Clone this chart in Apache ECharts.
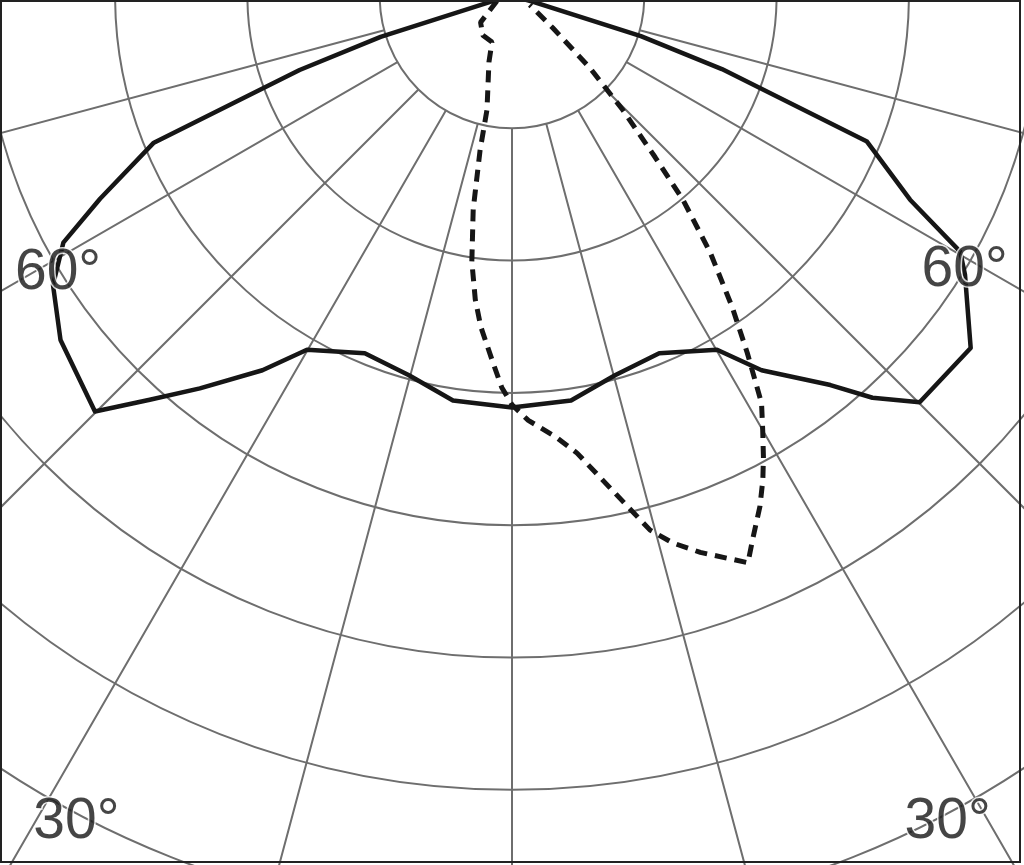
<!DOCTYPE html>
<html><head><meta charset="utf-8">
<script src="https://cdn.jsdelivr.net/npm/echarts@6/dist/echarts.min.js"></script>
<style>html,body{margin:0;padding:0;background:#fff}#c{width:1024px;height:865px}</style>
</head><body><div id="c"></div>
<script>
// gamma angle in degrees (0 = straight down, positive = right side), intensity in cd/klm
const solidAngles = [-90, -74.7, -72.7, -70.8, -67.7, -63.8, -61.2, -57.8, -52.7, -45.1, -41.9, -38.5, -33.7, -30.1, -22.4, -15.2, -8.3, 0,
  8.3, 15.2, 22.4, 30.1, 33.7, 39.3, 41.9, 45.1, 52.5, 58.4, 60.3, 62.9, 67.7, 70.8, 72.7, 74.7, 90];
const solidValues = [0, 17, 104, 170, 293, 347, 387, 410, 429, 445, 410, 379, 340, 309, 292, 297, 309, 311,
  309, 297, 292, 309, 340, 380, 408, 435, 437, 402, 390, 338, 290, 168, 102, 16, 0];

const dashAngles = [-71.6, -50, -36.6, -23.5, -19.2, -12.4, -11.7, -10.3, -8.6, -6.9, -5.4, -3.1, -1.5, 0,
  2.2, 5.7, 8.1, 14.5, 16.4, 18.7, 22.6, 24.0, 25.9, 27.4, 28.6, 30.0, 31.5, 33.4, 35.3, 37.7, 40.0, 41.6, 44.2, 47.3, 52, 63.4];
const dashValues = [12, 31, 37, 38, 53, 88, 119, 164, 203, 231, 251, 276, 296, 309,
  321, 335, 349, 417, 431, 444, 464, 448, 429, 412, 397, 379, 361, 323, 288, 245, 201, 163, 120, 80, 39, 15];

const labelTexts = ['60°', '60°', '30°', '30°'];
const labelAngles = [-58.6, 58.8, -27.8, 27.8];
const labelValues = [402, 400, 706, 706];

const ringMin = 100, ringMax = 800, ringStep = 100;
const angleStep = 15;

const chart = echarts.init(document.getElementById('c'), null, {renderer: 'canvas'});
const gridColor = '#6e6e6e';
const toData = (angles, values) => angles.map((a, i) => [values[i], a]);
const center = [512, -4];
const outerR = 1058.4, innerR = 132.3;

chart.setOption({
  backgroundColor: '#ffffff',
  animation: false,
  polar: [
    {center: center, radius: [innerR, outerR]},
    {center: center, radius: [0, outerR]}
  ],
  radiusAxis: [
    {polarIndex: 0, type: 'value', min: ringMin, max: ringMax, interval: ringStep,
      axisLine: {show: false}, axisTick: {show: false}, axisLabel: {show: false},
      splitLine: {show: true, lineStyle: {color: gridColor, width: 2}}},
    {polarIndex: 1, type: 'value', min: 0, max: ringMax, show: false,
      axisLine: {show: false}, axisTick: {show: false}, axisLabel: {show: false}, splitLine: {show: false}}
  ],
  angleAxis: [
    {polarIndex: 0, type: 'value', min: -180, max: 180, interval: angleStep, startAngle: 90, clockwise: false,
      axisLine: {show: false}, axisTick: {show: false}, axisLabel: {show: false},
      splitLine: {show: true, lineStyle: {color: gridColor, width: 2}}},
    {polarIndex: 1, type: 'value', min: -180, max: 180, startAngle: 90, clockwise: false, show: false,
      axisLine: {show: false}, axisTick: {show: false}, axisLabel: {show: false}, splitLine: {show: false}}
  ],
  series: [
    {type: 'line', coordinateSystem: 'polar', polarIndex: 1, data: toData(solidAngles, solidValues),
      symbol: 'none', smooth: false, clip: false, z: 3,
      lineStyle: {color: '#161616', width: 4.5, join: 'round'}},
    {type: 'line', coordinateSystem: 'polar', polarIndex: 1, data: toData(dashAngles, dashValues),
      symbol: 'none', smooth: false, clip: false, z: 4,
      lineStyle: {color: '#161616', width: 5, type: [12, 8], cap: 'butt'}},
    {type: 'scatter', coordinateSystem: 'polar', polarIndex: 1, symbolSize: 0, z: 10,
      data: labelTexts.map((t, i) => ({value: [labelValues[i], labelAngles[i]], name: t})),
      label: {show: true, position: 'inside', formatter: p => p.name,
        fontFamily: 'Liberation Sans, Arial, sans-serif', fontSize: 57, color: '#161616',
        textBorderColor: '#fff', textBorderWidth: 3}}
  ],
  graphic: [
    {type: 'rect', z: 100, shape: {x: 1, y: 1, width: 1019, height: 861},
      style: {fill: null, stroke: '#222', lineWidth: 2}}
  ]
});
</script>
</body></html>
